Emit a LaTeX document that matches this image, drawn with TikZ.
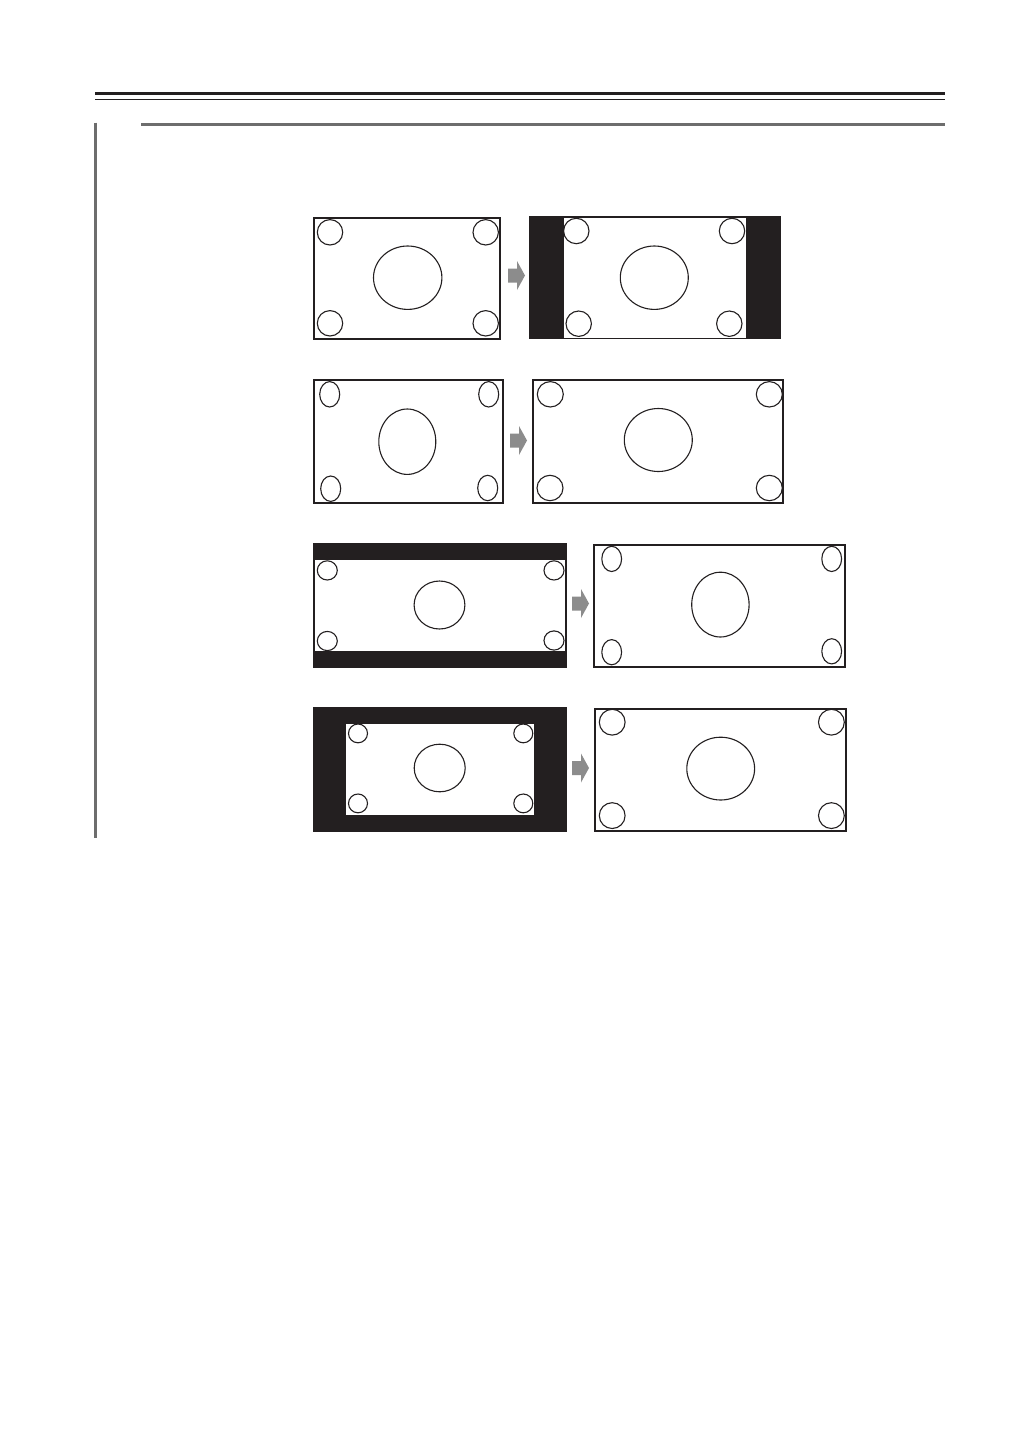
\documentclass[tikz,border=0pt]{standalone}
\definecolor{ink}{HTML}{231F20}
\definecolor{arrowgray}{HTML}{8C8C8C}
\definecolor{rulegray}{HTML}{6D6D6D}
\begin{document}
\begin{tikzpicture}[x=1pt, y=-1pt]
\tikzstyle{screen}=[rectangle,draw=ink,line width=2pt,fill=white,inner sep=0pt]
\tikzstyle{bars}=[rectangle,fill=ink,inner sep=0pt]
\tikzstyle{view}=[rectangle,fill=white,inner sep=0pt]
\tikzstyle{spot}=[draw=ink,line width=1.1pt]
\tikzstyle{goto}=[fill=arrowgray]
\fill[white] (0,0) rectangle (1030,1456);
%
\draw[ink,line width=3pt] (95,93.7) -- (945,93.7);
\draw[ink,line width=1pt] (95,99.5) -- (945,99.5);
\draw[rulegray,line width=3pt] (141,124.2) -- (945,124.2);
\draw[rulegray,line width=2.5pt] (95.5,122.7) -- (95.5,838);
%
\node[screen,minimum width=186pt,minimum height=121pt](l1) at (407.3,278.7) {};
\node[bars,minimum width=251.7pt,minimum height=123.3pt](r1) at (654.8,277.6) {};
\node[view,minimum width=182pt,minimum height=119.4pt](w1) at (655,278) {};
\draw[spot] (330,232.3) ellipse (12.7 and 12.7);
\draw[spot] (485.7,232.3) ellipse (12.7 and 12.7);
\draw[spot] (330,323.3) ellipse (12.7 and 12.7);
\draw[spot] (485.7,323.3) ellipse (12.7 and 12.7);
\draw[spot] (407.7,277.7) ellipse (34.2 and 31.7);
\draw[spot] (576.3,231) ellipse (12.7 and 12.7);
\draw[spot] (732,231) ellipse (12.7 and 12.7);
\draw[spot] (578.7,323.7) ellipse (12.7 and 12.7);
\draw[spot] (729.3,323.7) ellipse (12.7 and 12.7);
\draw[spot] (654.3,277.7) ellipse (34 and 31.7);
\fill[goto] (508,268.5) -- ++(9,0) -- ++(0,-7.5) -- ++(8,14.5) -- ++(-8,14.5) -- ++(0,-7.5) -- ++(-9,0) -- cycle;
%
\node[screen,minimum width=189pt,minimum height=122.7pt](l2) at (408.8,441.7) {};
\node[screen,minimum width=250.6pt,minimum height=122.7pt](r2) at (658,441.7) {};
\draw[spot] (329.7,394.3) ellipse (10 and 12.7);
\draw[spot] (488.7,394.3) ellipse (10 and 12.7);
\draw[spot] (330.7,488.7) ellipse (10 and 12.7);
\draw[spot] (487.7,488) ellipse (10 and 12.7);
\draw[spot] (407.3,441.7) ellipse (28.5 and 32.7);
\draw[spot] (550.3,394.3) ellipse (13 and 12.7);
\draw[spot] (769.3,394.3) ellipse (13 and 12.7);
\draw[spot] (550,488) ellipse (13 and 12.7);
\draw[spot] (769.3,488) ellipse (13 and 12.7);
\draw[spot] (658.3,440) ellipse (34 and 31.5);
\fill[goto] (510,433.5) -- ++(9,0) -- ++(0,-7.5) -- ++(8,14.5) -- ++(-8,14.5) -- ++(0,-7.5) -- ++(-9,0) -- cycle;
%
\node[bars,minimum width=254.5pt,minimum height=125pt](l3) at (440.2,605.5) {};
\node[view,minimum width=250.5pt,minimum height=91.5pt](w3) at (440.2,605.7) {};
\node[screen,minimum width=251pt,minimum height=122pt](r3) at (719.5,606) {};
\draw[spot] (327.3,570.4) ellipse (10 and 9.6);
\draw[spot] (554,570.4) ellipse (10 and 9.6);
\draw[spot] (327.3,641) ellipse (10 and 9.6);
\draw[spot] (554,640.5) ellipse (10 and 9.6);
\draw[spot] (439.5,605) ellipse (25.4 and 24);
\draw[spot] (611.7,558.9) ellipse (9.9 and 12.6);
\draw[spot] (831.7,558.9) ellipse (9.9 and 12.6);
\draw[spot] (611.7,652.2) ellipse (9.9 and 12.6);
\draw[spot] (831.7,651.3) ellipse (9.9 and 12.6);
\draw[spot] (720.4,604.6) ellipse (28.7 and 32.4);
\fill[goto] (572,596.5) -- ++(9,0) -- ++(0,-7.5) -- ++(8,14.5) -- ++(-8,14.5) -- ++(0,-7.5) -- ++(-9,0) -- cycle;
%
\node[bars,minimum width=254pt,minimum height=125pt](l4) at (440,769.5) {};
\node[view,minimum width=188pt,minimum height=91pt](w4) at (440,769.5) {};
\node[screen,minimum width=251pt,minimum height=122pt](r4) at (720.5,770) {};
\draw[spot] (358,733.4) ellipse (9.5 and 9.4);
\draw[spot] (523.3,733.4) ellipse (9.5 and 9.4);
\draw[spot] (358,803.4) ellipse (9.5 and 9.4);
\draw[spot] (523.3,803.4) ellipse (9.5 and 9.4);
\draw[spot] (439.7,768) ellipse (25.5 and 23.8);
\draw[spot] (612.2,722.2) ellipse (12.9 and 12.9);
\draw[spot] (831.4,722.2) ellipse (12.9 and 12.9);
\draw[spot] (612.2,815.6) ellipse (12.9 and 12.9);
\draw[spot] (831.4,815.6) ellipse (12.9 and 12.9);
\draw[spot] (720.7,768.6) ellipse (33.9 and 31.4);
\fill[goto] (572,761) -- ++(9,0) -- ++(0,-7.5) -- ++(8,14.5) -- ++(-8,14.5) -- ++(0,-7.5) -- ++(-9,0) -- cycle;
\end{tikzpicture}
\end{document}
